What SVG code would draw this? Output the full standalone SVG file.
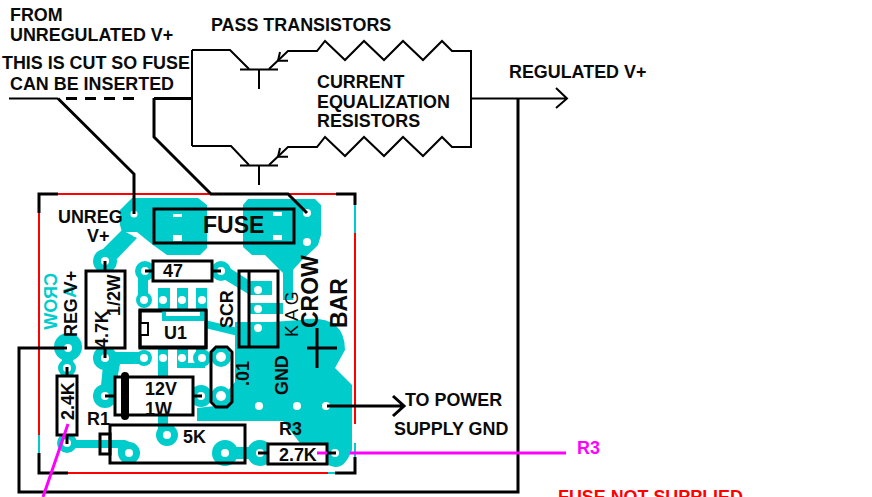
<svg xmlns="http://www.w3.org/2000/svg" width="872" height="497" viewBox="0 0 872 497">
<style>
text{font-family:"Liberation Sans",Arial,sans-serif;font-weight:bold;font-size:17.9px;fill:#0a0a0a}
.w{fill:none;stroke:#000;stroke-width:2}
.t{fill:none;stroke:#000;stroke-width:3}
.b{fill:#fff;stroke:#000;stroke-width:3}
.n{fill:none;stroke:#000;stroke-width:3}
.c{fill:#00cccc;stroke:none}
.ct{fill:none;stroke:#00cccc}
.h{fill:#fff}
.r{fill:none;stroke:#f00;stroke-width:2}
.m{fill:none;stroke:#f0f;stroke-width:3}
.big{font-size:23px}
</style>
<g id="board-outline">
<path class="r" d="M39 213V435M58 194H336M355 233V424M68 473H328"/>
<path class="ct" stroke-width="2" d="M39 435V453M355 205V233M355 443V457M328 473H335"/>
</g>
<g id="copper">
<path class="c" d="M132 198H198L207 205V248L200 255H167L153 245L143 237L137 232L122 232L120 225V210Z"/>
<path class="c" d="M137 238L114 262L100 252L122 230Z"/>
<circle class="c" cx="105" cy="261" r="12"/>
<path class="c" d="M248 199H315L321 205V235L318 245L313 250L302 260L293 270V300H283V273L265 255H252L243 247V205Z"/>
<path class="c" d="M225 265L250 281H272V295H250L222 278Z"/>
<circle class="c" cx="145" cy="271" r="10"/>
<circle class="c" cx="221" cy="271" r="10"/>
<rect class="c" x="138" y="271" width="10" height="25"/>
<circle class="c" cx="144" cy="300" r="8"/>
<rect class="c" x="158" y="288" width="12" height="22"/>
<rect class="c" x="177" y="288" width="11" height="22"/>
<rect class="c" x="196" y="288" width="11" height="22"/>
<path class="c" d="M250 303H283V314H250Z"/>
<path class="c" d="M235 322H272L300 320Q323 316 335 325Q345 333 345 350L335 368L352 385V450Q345 468 335 467Q320 465 321 447H303L283 421H197V408L215 406L235 382Z"/>
<path class="c" d="M205 320L238 328V336L205 328Z"/>
<circle class="c" cx="201" cy="396" r="11"/>
<circle class="c" cx="221" cy="357" r="10"/>
<circle class="c" cx="221" cy="396" r="10"/>
<circle class="c" cx="68" cy="347" r="14"/>
<circle class="c" cx="67" cy="368" r="9"/>
<rect class="c" x="62" y="350" width="11" height="18"/>
<circle class="c" cx="105" cy="358" r="12"/>
<path class="c" d="M105 352H150V364H120L116 385L115 396H100L103 365Z"/>
<circle class="c" cx="105" cy="396" r="12"/>
<circle class="c" cx="144" cy="358" r="8"/>
<rect class="c" x="158" y="348" width="10" height="85"/>
<circle class="c" cx="167" cy="435" r="11"/>
<path class="c" d="M177 348H188V363H196V348H205V368H177Z"/>
<circle class="c" cx="202" cy="358" r="9"/>
<circle class="c" cx="67" cy="443" r="10"/>
<path class="c" d="M67 440H125Q135 443 140 453H118V448H67Z"/>
<circle class="c" cx="129" cy="453" r="11"/>
<circle class="c" cx="225" cy="453" r="13"/>
<circle class="c" cx="260" cy="453" r="13"/>
<rect class="c" x="225" y="447" width="35" height="12"/>
</g>
<g id="u1"><rect class="b" x="140" y="311" width="66" height="36"/><path class="c" d="M162 311H205V321H162Z"/><rect class="h" x="166" y="312" width="34" height="4"/><rect class="w" x="140" y="323" width="8" height="12" style="fill:#fff"/><rect x="140" y="310" width="66" height="38" class="n"/></g>
<g id="holes" class="h">
<rect x="173" y="214" width="9" height="3"/><rect x="173" y="235" width="9" height="6"/>
<rect x="273" y="212" width="9" height="4"/><rect x="273" y="235" width="9" height="5"/>
<circle cx="134" cy="214" r="3.500"/><path d="M138 234L143 237H133Z"/>
<circle cx="307" cy="213" r="4"/><circle cx="307" cy="242" r="4"/>
<circle cx="105" cy="261" r="4"/><circle cx="145" cy="271" r="4"/><circle cx="221" cy="271" r="4"/>
<circle cx="144" cy="300" r="4"/><circle cx="163" cy="300" r="4"/><circle cx="182" cy="300" r="4"/><circle cx="202" cy="300" r="4"/>
<circle cx="258" cy="290" r="4"/><circle cx="258" cy="309" r="4"/><circle cx="258" cy="328" r="4"/>
<circle cx="144" cy="358" r="4"/><circle cx="163" cy="358" r="4"/><circle cx="182" cy="358" r="4"/><circle cx="202" cy="358" r="4"/>
<circle cx="221" cy="357" r="5"/><circle cx="221" cy="396" r="5"/>
<circle cx="68" cy="348" r="4"/><circle cx="67" cy="368" r="4"/><circle cx="67" cy="443" r="4"/>
<circle cx="105" cy="358" r="4"/><circle cx="105" cy="396" r="4"/><circle cx="167" cy="435" r="4"/><circle cx="129" cy="453" r="4"/>
<circle cx="201" cy="396" r="4"/><circle cx="259" cy="406" r="4"/><circle cx="297" cy="406" r="4"/><circle cx="326" cy="406" r="4"/>
<circle cx="225" cy="453" r="4"/><circle cx="260" cy="453" r="4"/><circle cx="335" cy="453" r="4"/>
</g>
<g id="connectors">
<path class="w" d="M192 50V146M192 50H230L249 69M269 69L288 51H317L325 41L345 60L364 41L384 60L403 41L423 60L442 41L452 51H471V147H452L442 137L423 156L403 137L384 156L364 137L345 156L325 137L317 147H288L269 165M192 146H231L249 165"/>
<path class="w" d="M240 69.500H278M259 69V89M240 165.500H278M259 165V185M288 60.700H278L280 52M288 156.700H278L280 148"/>
<path class="w" d="M471 98.500H567M556 88L567 98.500L556 108"/>
<path class="t" d="M518 98V492H19V348H67"/>
<path class="t" d="M154 98.500H192M154 98V137L211 194H288L307 213"/>
<path class="w" d="M9 98.500H58"/>
<path class="t" d="M58 98.500L134 174V214"/>
<path class="t" d="M66 98.500H136" stroke-dasharray="11 8"/>
<path class="t" d="M39 213V194H58M355 205V194H336M39 453V473H68M355 457V473H335"/>
<path class="t" d="M327 406H404M393 396L404 406L393 416"/>
</g>
<g id="fuse"><rect class="n" x="154" y="209" width="140" height="34"/></g>
<g id="r47"><rect class="b" x="153" y="261" width="59" height="20"/><path class="t" d="M145 271H153M212 271H221"/></g>
<g id="r4k7"><rect class="b" x="86" y="271" width="39" height="77"/><path class="t" d="M105 261V271M105 348V358"/></g>
<g id="r24k"><rect class="b" x="57" y="376" width="20" height="59"/><path class="t" d="M67 367V376M67 435V444"/></g>
<g id="scr"><rect class="n" x="239" y="271" width="39" height="76"/><path class="t" d="M249 271V347"/></g>
<g id="cap"><path class="t" d="M216 347H227L232 352V402L227 407H216L211 402V352Z"/></g>
<g id="zener"><rect class="b" x="115" y="377" width="78" height="38"/><rect x="121" y="372" width="8" height="48" rx="4"/><path class="t" d="M105 396H115M193 396H202"/></g>
<g id="pot"><rect class="n" x="110" y="425" width="135" height="38"/><rect class="n" x="100" y="434" width="10" height="20"/></g>
<g id="r27k"><rect class="b" x="268" y="444" width="59" height="20"/><path class="t" d="M258 453H268M327 453H336"/></g>
<g id="crowbar-sym"><path class="t" d="M317 328V368M307 348H337"/></g>
<g id="magenta"><path class="m" d="M68 424L43 497M317 453H327M350 453H566"/></g>
<g id="labels">
<text x="10" y="21">FROM</text>
<text x="10" y="41">UNREGULATED V+</text>
<text x="2" y="69">THIS IS CUT SO FUSE</text>
<text x="10" y="90">CAN BE INSERTED</text>
<text x="211" y="31">PASS TRANSISTORS</text>
<text x="317" y="88">CURRENT</text>
<text x="317" y="108">EQUALIZATION</text>
<text x="317" y="127">RESISTORS</text>
<text x="509" y="78">REGULATED V+</text>
<text x="58" y="223">UNREG</text>
<text x="87" y="242">V+</text>
<text x="203" y="233" class="big">FUSE</text>
<text x="163" y="277">47</text>
<text x="164" y="339">U1</text>
<text transform="translate(233,328) rotate(-90)">SCR</text>
<text transform="translate(298,337) rotate(-90)" style="font-weight:normal">K A G</text>
<text transform="translate(318,328) rotate(-90)" class="big">CROW</text>
<text transform="translate(347,328) rotate(-90)" class="big">BAR</text>
<text transform="translate(57,273) rotate(90) scale(1,-1)" style="fill:#00cccc">CROW</text>
<text transform="translate(76,285) rotate(90) scale(1,-1)" style="fill:#00cccc">A</text>
<text transform="translate(77,337) rotate(-90)">REG V+</text>
<text transform="translate(108,348) rotate(-90)">4.7K</text>
<text transform="translate(120,316) rotate(-90)">1/2W</text>
<text transform="translate(74,420) rotate(-90)">2.4K</text>
<text x="145" y="395">12V</text>
<text x="145" y="415">1W</text>
<text x="87" y="425">R1</text>
<text x="183" y="443">5K</text>
<text x="279" y="435">R3</text>
<text x="279" y="461">2.7K</text>
<text transform="translate(249,386) rotate(-90)">.01</text>
<text transform="translate(288,395) rotate(-90)">GND</text>
<text x="405" y="406">TO POWER</text>
<text x="394" y="435">SUPPLY GND</text>
<text x="577" y="454" style="fill:#f0f">R3</text>
<text x="558" y="503" style="fill:#f00">FUSE NOT SUPPLIED</text>
</g>
</svg>
